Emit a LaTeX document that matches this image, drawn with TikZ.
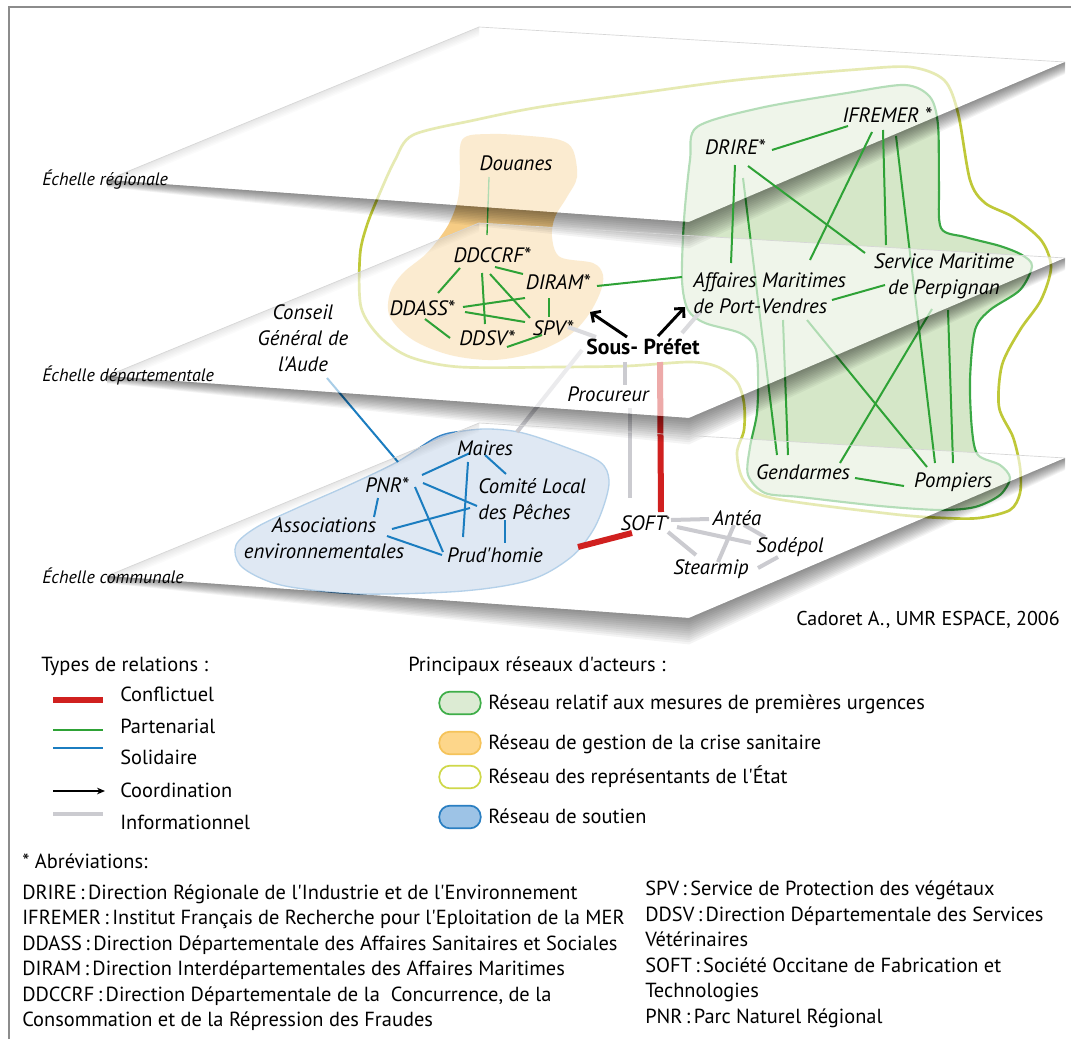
\documentclass[tikz,border=0pt]{standalone}
\usepackage{fontspec}
\setmainfont{PT Sans}[Ligatures=TeXOff]
\usetikzlibrary{calc,arrows.meta}
\pgfdeclarelayer{regions}
\pgfdeclarelayer{planeC}
\pgfdeclarelayer{linesC}
\pgfdeclarelayer{planeB}
\pgfdeclarelayer{linesB}
\pgfdeclarelayer{planeA}
\pgfdeclarelayer{shadows}
\pgfdeclarelayer{toplines}
\pgfsetlayers{regions,planeC,linesC,planeB,linesB,planeA,shadows,toplines,main}
\definecolor{cGreen}{HTML}{2EA236}
\definecolor{cBlue}{HTML}{1B7DC0}
\definecolor{cRed}{HTML}{D0201F}
\definecolor{cGray}{HTML}{CBCBD0}
\definecolor{rGreenFill}{HTML}{D5E7C8}
\definecolor{rGreenLine}{HTML}{3AA845}
\definecolor{rOrange}{HTML}{F6CC84}
\definecolor{rYellow}{HTML}{BFC838}
\definecolor{rBlueFill}{HTML}{ABC3E0}
\definecolor{rBlueLine}{HTML}{3A86C6}
\definecolor{cFrame}{HTML}{8C8C8C}
\definecolor{pGreenF}{HTML}{DCEBD3}
\definecolor{pGreenD}{HTML}{3FAE49}
\definecolor{pOrangeF}{HTML}{FDD68A}
\definecolor{pOrangeD}{HTML}{F5C35A}
\definecolor{pYellowD}{HTML}{CFD84A}
\definecolor{pBlueF}{HTML}{9DC3E6}
\definecolor{pBlueD}{HTML}{2A7FC2}
\newcommand\labfont{\fontsize{15.6}{19.5}\selectfont\itshape}
\newcommand\echfont{\fontsize{13.5}{16}\selectfont\itshape}
\newcommand\txtfont{\fontsize{15.3}{19}\selectfont}
\newcommand\planeshade[3]{%
  \foreach \k in {1,...,12}{%
    \fill[black,opacity=0.045] (#1) -- (#2) -- (#3) -- ($(#3)+(0,\k*1.0)$) -- ($(#2)+(0,\k*2.2)$) -- ($(#1)+(0,\k*0.6)$) -- cycle;
  }%
}
\newcommand\planeedge[2]{%
  \foreach \k in {1,...,6}{%
    \fill[black,opacity=0.014] (#1) -- (#2) -- ($(#2)+(0,\k*1.5)$) -- ($(#1)+(0,\k*1.5)$) -- cycle;
  }%
}
\tikzset{
  lab/.style={font=\labfont, inner sep=0pt, anchor=center},
  txt/.style={font=\txtfont, inner sep=0pt},
  gl/.style={cGreen, line width=1.5pt},
  bl/.style={cBlue, line width=1.5pt},
  rl/.style={cRed, line width=4.5pt},
  il/.style={cGray, line width=3pt},
  arr/.style={black, line width=2.2pt, -{Straight Barb[length=5pt,width=10pt]}},
  pill/.style={rounded corners=8pt, minimum width=31pt, minimum height=17pt, line width=1.3pt, inner sep=0pt},
  planefill/.style={white, opacity=0.62},
}
\begin{document}
\begin{tikzpicture}[x=0.75pt,y=-0.75pt]
\useasboundingbox (0,0) rectangle (1071,1039);

% ---------- text nodes ----------
\node[font=\echfont, anchor=west, inner sep=0pt] (ech1) at (42,180) {Échelle régionale};
\node[font=\echfont, anchor=west, inner sep=0pt] (ech2) at (42,375) {Échelle départementale};
\node[font=\echfont, anchor=west, inner sep=0pt] (ech3) at (42,576) {Échelle communale};

\node[lab] (douanes) at (516,163) {Douanes};
\node[lab] (ddccrf) at (492,255) {DDCCRF*};
\node[lab] (diram) at (558,282) {DIRAM*};
\node[lab] (ddass) at (422,308) {DDASS*};
\node[lab] (ddsv) at (487,338) {DDSV*};
\node[lab] (spv) at (553,328) {SPV*};
\node[lab, font=\fontsize{16.3}{19}\selectfont\bfseries] (sp) at (643,347) {Sous- Préfet};
\node[lab] (proc) at (608,394) {Procureur};
\node[lab] (drire) at (735,147) {DRIRE*};
\node[lab] (ifremer) at (887,115) {IFREMER *};
\node[lab, anchor=west, align=left] (aff) at (693,293) {Affaires Maritimes\\de Port-Vendres};
\node[lab, align=center] (serv) at (944,276) {Service Maritime\\de Perpignan};
\node[lab] (gend) at (803,472) {Gendarmes};
\node[lab] (pomp) at (953,482) {Pompiers};
\node[lab, align=center] (conseil) at (303,338) {Conseil\\Général de\\l'Aude};
\node[lab] (maires) at (485,448) {Maires};
\node[lab] (pnr) at (387,485) {PNR*};
\node[lab, anchor=west, align=left] (comite) at (478,499) {Comité Local\\des Pêches};
\node[lab, align=center] (assoc) at (324,538) {Associations\\environnementales};
\node[lab] (prud) at (495,555) {Prud'homie};
\node[lab] (soft) at (645,523) {SOFT\raisebox{0.6ex}{\fontsize{8}{8}\selectfont*}};
\node[lab] (antea) at (737,518) {Antéa};
\node[lab] (sodepol) at (790,547) {Sodépol};
\node[lab] (stearmip) at (711,569) {Stearmip};
\node[font=\fontsize{15}{18}\selectfont, anchor=east, inner sep=0pt] (cadoret) at (1060,620) {Cadoret A., UMR ESPACE, 2006};

% ---------- legend ----------
\node[txt, anchor=base west] (lgTitle) at (41,671) {Types de relations :};
\node[txt, anchor=base west] (lgConf) at (120,701) {Conflictuel};
\node[txt, anchor=base west] (lgPart) at (120,733) {Partenarial};
\node[txt, anchor=base west] (lgSol) at (120,764) {Solidaire};
\node[txt, anchor=base west] (lgCoord) at (120,797) {Coordination};
\node[txt, anchor=base west] (lgInfo) at (120,829) {Informationnel};
\coordinate (lr1) at (53,700); \coordinate (lr2) at (103,700);
\coordinate (lg1) at (53,730); \coordinate (lg2) at (103,730);
\coordinate (lb1) at (53,748); \coordinate (lb2) at (103,748);
\coordinate (la1) at (53,791); \coordinate (la2) at (105,791);
\coordinate (li1) at (53,814); \coordinate (li2) at (103,814);
\draw[rl] (lr1) -- (lr2);
\draw[gl] (lg1) -- (lg2);
\draw[bl] (lb1) -- (lb2);
\draw[black, line width=0.9pt, -{Stealth[length=6pt,width=5pt]}] (la1) -- (la2);
\draw[il, line width=3.6pt] (li1) -- (li2);

\node[txt, anchor=base west] (prTitle) at (408,671) {Principaux réseaux d'acteurs :};
\node[pill, fill=pGreenF, draw=pGreenD] (pGreen) at (460,703) {};
\node[pill, fill=pOrangeF, draw=pOrangeD] (pOrange) at (460,743) {};
\node[pill, fill=white, draw=pYellowD] (pYellow) at (460,777) {};
\node[pill, fill=pBlueF, draw=pBlueD] (pBlue) at (460,817) {};
\node[txt, anchor=base west] (tGreen) at (488,709) {Réseau relatif aux mesures de premières urgences};
\node[txt, anchor=base west] (tOrange) at (488,749) {Réseau de gestion de la crise sanitaire};
\node[txt, anchor=base west] (tYellow) at (488,783) {Réseau des représentants de l'État};
\node[txt, anchor=base west] (tBlue) at (488,823) {Réseau de soutien};

% ---------- abbreviations ----------
\node[txt, anchor=base west] (abT) at (22,868) {* Abréviations:};
\node[txt, anchor=base west] (ab1) at (22,899) {DRIRE\,:\,Direction Régionale de l'Industrie et de l'Environnement};
\node[txt, anchor=base west] (ab2) at (22,924.5) {IFREMER\,:\,Institut Français de Recherche pour l'Eploitation de la MER};
\node[txt, anchor=base west] (ab3) at (22,950) {DDASS\,:\,Direction Départementale des Affaires Sanitaires et Sociales};
\node[txt, anchor=base west] (ab4) at (22,975.5) {DIRAM\,:\,Direction Interdépartementales des Affaires Maritimes};
\node[txt, anchor=base west] (ab5) at (22,1001) {DDCCRF\,:\,Direction Départementale de la~ Concurrence, de la};
\node[txt, anchor=base west] (ab6) at (22,1026.5) {Consommation et de la Répression des Fraudes};
\node[txt, anchor=base west] (ab7) at (645,895) {SPV\,:\,Service de Protection des végétaux};
\node[txt, anchor=base west] (ab8) at (645,921) {DDSV\,:\,Direction Départementale des Services};
\node[txt, anchor=base west] (ab9) at (645,946) {Vétérinaires};
\node[txt, anchor=base west] (ab10) at (645,972) {SOFT\,:\,Société Occitane de Fabrication et};
\node[txt, anchor=base west] (ab11) at (645,997) {Technologies};
\node[txt, anchor=base west] (ab12) at (645,1023) {PNR\,:\,Parc Naturel Régional};

% ---------- plane corners ----------
\coordinate (aL) at (107,180); \coordinate (aT) at (479,27); \coordinate (aR) at (1065,62); \coordinate (aB) at (689,222);
\coordinate (bL) at (107,376); \coordinate (bT) at (479,223); \coordinate (bR) at (1065,258); \coordinate (bB) at (689,418);
\coordinate (cL) at (107,576); \coordinate (cT) at (479,423); \coordinate (cR) at (1065,458); \coordinate (cB) at (689,618);

% ---------- regions (under the planes) ----------
\begin{pgfonlayer}{regions}
  \fill[white] (0,0) rectangle (1071,1039);
  \draw[cFrame, line width=0.9pt] (9,1039) -- (9,7) -- (1071,7);
  \fill[rOrange] plot[smooth cycle, tension=0.55] coordinates {(462,140) (490,134) (530,136) (560,140) (573,150) (577,177) (567,197) (555,217) (552,237) (560,257) (593,263) (603,275) (600,293) (587,317) (567,337) (533,353) (493,360) (450,355) (413,340) (390,317) (390,293) (403,273) (427,253) (447,227) (457,203) (460,180)};
  \filldraw[fill=rBlueFill, draw=rBlueLine, line width=1pt] plot[smooth cycle, tension=0.55] coordinates {(236,545) (240,565) (265,580) (297,588) (363,594) (463,591) (530,580) (570,558) (592,532) (604,505) (609,480) (600,462) (565,447) (523,433) (490,429) (463,431) (437,437) (397,462) (347,486) (297,508) (257,527)};
  \filldraw[fill=rGreenFill, draw=rGreenLine, line width=1.6pt] plot[smooth cycle, tension=0.5] coordinates {(697,127) (760,108) (847,93) (905,85) (930,97) (938,125) (939,185) (941,228) (965,237) (1000,246) (1022,255) (1032,266) (1020,290) (990,310) (975,330) (970,380) (972,430) (978,455) (1000,465) (1010,478) (1000,495) (975,507) (940,510) (880,506) (800,497) (765,493) (748,475) (750,447) (757,413) (758,373) (755,347) (740,333) (705,323) (688,310) (682,280) (684,220) (690,160)};
  \draw[rYellow, line width=2pt] plot[smooth cycle, tension=0.5] coordinates {(360,255) (367,225) (379,195) (395,160) (413,135) (475,120) (540,107) (640,93) (737,80) (850,70) (910,67) (944,80) (958,113) (970,180) (985,203) (1013,217) (1041,240) (1051,267) (1041,300) (1020,330) (1002,365) (999,407) (1013,437) (1020,467) (1020,493) (1010,510) (979,518) (944,518) (892,514) (772,498) (744,481) (737,453) (744,430) (744,403) (737,382) (718,367) (690,362) (627,366) (560,367) (460,367) (410,357) (380,337) (361,307)};
\end{pgfonlayer}

% ---------- planes ----------
\begin{pgfonlayer}{planeC}
  \fill[planefill] (cL) -- (cT) -- (cR) -- (cB) -- cycle;
\end{pgfonlayer}
\begin{pgfonlayer}{planeB}
  \fill[planefill] (bL) -- (bT) -- (bR) -- (bB) -- cycle;
\end{pgfonlayer}
\begin{pgfonlayer}{planeA}
  \fill[planefill] (aL) -- (aT) -- (aR) -- (aB) -- cycle;
\end{pgfonlayer}
\begin{pgfonlayer}{shadows}
  \planeshade{cL}{cB}{cR}
  \planeshade{bL}{bB}{bR}
  \planeshade{aL}{aB}{aR}
  \planeedge{cL}{cT}
  \planeedge{bL}{bT}
  \planeedge{aL}{aT}
  \draw[black!16, line width=0.5pt] (aL) -- (aT) -- (aR);
  \draw[black!16, line width=0.5pt] (bL) -- (bT) -- (bR);
  \draw[black!16, line width=0.5pt] (cL) -- (cT) -- (cR);
\end{pgfonlayer}

% ---------- connectors reaching the communal plane ----------
\begin{pgfonlayer}{linesC}
  \draw[gl] ($(drire)+(8,31)$) -- ($(gend)+(-26,-17)$);
  \draw[gl] ($(ifremer)+(9,21)$) -- ($(pomp)+(-18,-19)$);
  \draw[gl] ($(aff.west)+(90,27)$) -- ($(gend)+(-15,-17)$);
  \draw[gl] ($(aff.west)+(114,27)$) -- ($(pomp)+(-26,-15)$);
  \draw[gl] ($(serv)+(-12,33)$) -- ($(gend)+(37,-9)$);
  \draw[gl] ($(serv)+(4,34)$) -- ($(pomp)+(0,-19)$);
  \draw[bl] ($(conseil)+(24,40)$) -- ($(pnr)+(11,-23)$);
  \draw[rl] ($(sp)+(17,15)$) -- ($(soft)+(16,-11)$);
  \draw[il] ($(proc)+(22,14)$) -- ($(soft)+(-15,-25)$);
  \draw[il] ($(maires)+(32,-16)$) -- ($(sp)+(-61,3)$);
\end{pgfonlayer}

% ---------- connector from regional to departmental plane ----------
\begin{pgfonlayer}{linesB}
  \draw[gl, line width=1pt] ($(douanes)+(-27,14)$) -- ($(ddccrf)+(-5,-20)$);
\end{pgfonlayer}

% ---------- connectors on top ----------
\begin{pgfonlayer}{toplines}
  \draw[il] ($(sp)+(-18,15)$) -- ($(proc)+(17,-9)$);
  \draw[il, cGray!70] ($(spv)+(15,-1)$) -- ($(sp)+(-47,-10)$);
  \draw[il, cGray!70] ($(sp)+(39,-14)$) -- ($(aff.west)+(7,19)$);
  \draw[gl] ($(ddccrf)+(-32,13)$) -- ($(ddass)+(16,-15)$);
  \draw[gl] ($(ddccrf)+(3,12)$) -- ($(diram)+(-35,-8)$);
  \draw[gl] ($(ddccrf)+(-10,18)$) -- ($(ddsv)+(-2,-14)$);
  \draw[gl] ($(ddccrf)+(-2,19)$) -- ($(spv)+(-23,-10)$);
  \draw[gl] ($(ddass)+(41,-1)$) -- ($(diram)+(-33,16)$);
  \draw[gl] ($(ddass)+(43,4)$) -- ($(spv)+(-28,-6)$);
  \draw[gl] ($(ddass)+(3,11)$) -- ($(ddsv)+(-37,0)$);
  \draw[gl] ($(diram)+(-9,16)$) -- ($(spv)+(-4,-11)$);
  \draw[gl] ($(ddsv)+(20,9)$) -- ($(spv)+(-11,7)$);
  \draw[gl] ($(diram)+(39,4)$) -- ($(aff.west)+(-11,-16)$);
  \draw[arr] ($(sp)+(-16,-10)$) -- ($(spv)+(37,-16)$);
  \draw[arr] ($(sp)+(15,-11)$) -- ($(aff.west)+(-8,14)$);
  \draw[gl] ($(drire)+(37,3)$) -- ($(ifremer)+(-39,11)$);
  \draw[gl] ($(drire)+(0,18)$) -- ($(aff.west)+(38,-30)$);
  \draw[gl] ($(drire)+(13,19)$) -- ($(serv)+(-79,-23)$);
  \draw[gl] ($(ifremer)+(-15,17)$) -- ($(aff.west)+(117,-33)$);
  \draw[gl] ($(ifremer)+(-4,15)$) -- ($(serv)+(-58,-31)$);
  \draw[gl] ($(aff.west)+(139,7)$) -- ($(serv)+(-59,9)$);
  \draw[gl] ($(gend)+(52,6)$) -- ($(pomp)+(-49,4)$);
  \draw[bl] ($(pnr)+(35,-10)$) -- ($(maires)+(-15,5)$);
  \draw[bl] ($(pnr)+(36,-2)$) -- ($(comite.west)+(-1,7)$);
  \draw[bl] ($(pnr)+(-9,13)$) -- ($(assoc)+(50,-21)$);
  \draw[bl] ($(pnr)+(28,2)$) -- ($(prud)+(-52,-3)$);
  \draw[bl] ($(maires)+(-17,14)$) -- ($(prud)+(-32,-18)$);
  \draw[bl] ($(maires)+(0,7)$) -- ($(comite.west)+(28,-25)$);
  \draw[bl] ($(assoc)+(68,-9)$) -- ($(comite.west)+(-8,9)$);
  \draw[bl] ($(assoc)+(63,-2)$) -- ($(prud)+(-53,0)$);
  \draw[bl] ($(comite.west)+(27,21)$) -- ($(prud)+(10,-12)$);
  \draw[rl] ($(prud)+(83,-8)$) -- ($(soft)+(-13,10)$);
  \draw[il] ($(soft)+(26,-3)$) -- ($(antea)+(-28,1)$);
  \draw[il] ($(soft)+(32,4)$) -- ($(sodepol)+(-39,-4)$);
  \draw[il] ($(soft)+(23,9)$) -- ($(stearmip)+(-15,-14)$);
  \draw[il] ($(antea)+(-3,7)$) -- ($(stearmip)+(7,-7)$);
  \draw[il] ($(antea)+(7,7)$) -- ($(sodepol)+(-25,-10)$);
  \draw[il] ($(stearmip)+(47,-1)$) -- ($(sodepol)+(-12,10)$);
\end{pgfonlayer}
\end{tikzpicture}
\end{document}
